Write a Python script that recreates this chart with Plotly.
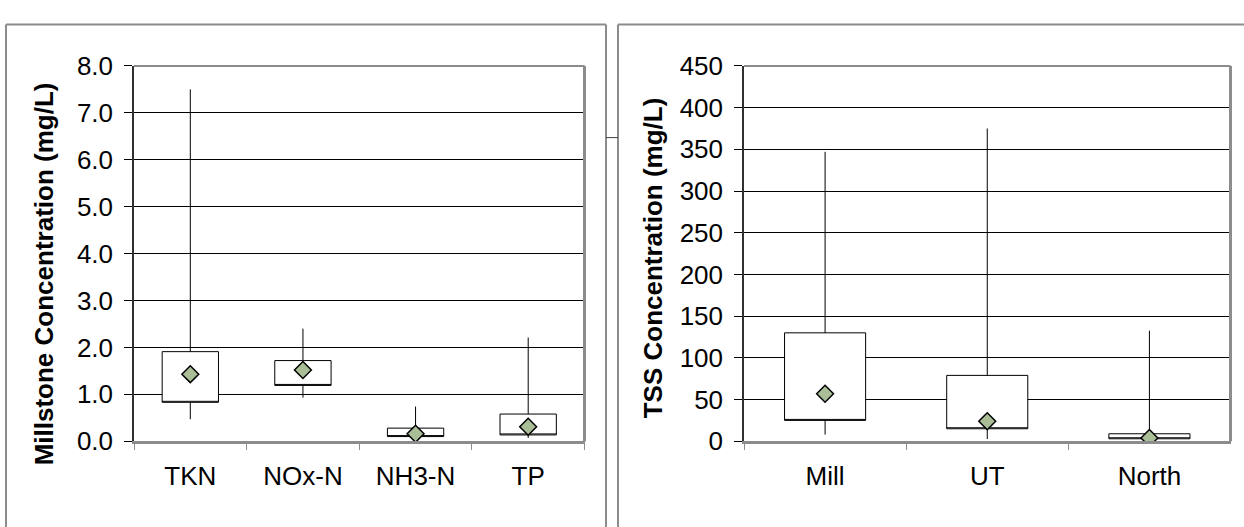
import plotly.graph_objects as go

W, H = 1244, 527

# ---- Left panel data (Millstone nutrients, mg/L)
nut_cats = ["TKN", "NOx-N", "NH3-N", "TP"]
nut_min = [0.47, 0.93, 0.02, 0.07]
nut_q1 = [0.83, 1.19, 0.10, 0.135]
nut_q3 = [1.91, 1.72, 0.28, 0.58]
nut_max = [7.50, 2.40, 0.74, 2.21]
nut_mean = [1.43, 1.52, 0.16, 0.31]
nut_ticks = [0, 1, 2, 3, 4, 5, 6, 7, 8]

# ---- Right panel data (TSS, mg/L)
tss_cats = ["Mill", "UT", "North"]
tss_min = [8, 2.7, 0.5]
tss_q1 = [25, 15, 3]
tss_q3 = [130, 79, 9]
tss_max = [347, 375, 132.5]
tss_mean = [57, 24, 4]
tss_ticks = [0, 50, 100, 150, 200, 250, 300, 350, 400, 450]

FONT = "Liberation Sans, Arial, sans-serif"
MEAN_FILL = "#a9bd97"

def px_x(p):
    return p / W

def px_y(p):
    return (H - p) / H

fig = go.Figure()

def add_panel(cats, lo, q1, q3, hi, mean, xa, ya):
    fig.add_trace(go.Box(
        x=cats, q1=q1, median=q1, q3=q3, lowerfence=lo, upperfence=hi,
        boxpoints=False, fillcolor="white", width=0.5, whiskerwidth=0,
        line=dict(color="black", width=1), xaxis=xa, yaxis=ya,
        showlegend=False, hoverinfo="skip"))
    fig.add_trace(go.Scatter(
        x=cats, y=mean, mode="markers", xaxis=xa, yaxis=ya, showlegend=False,
        marker=dict(symbol="diamond", size=13, color=MEAN_FILL,
                    line=dict(color="black", width=1.5))))

add_panel(nut_cats, nut_min, nut_q1, nut_q3, nut_max, nut_mean, "x", "y")
add_panel(tss_cats, tss_min, tss_q1, tss_q3, tss_max, tss_mean, "x2", "y2")

ydom = [px_y(452), px_y(54)]

def xaxis_cfg(dom, cats):
    return dict(domain=dom, type="category", categoryorder="array",
                categoryarray=cats, range=[-0.5, len(cats) - 0.5],
                showline=True, linecolor="#8c8c8c", linewidth=3,
                ticks="outside", tickson="boundaries", ticklen=6,
                tickcolor="#8c8c8c", tickwidth=1, showgrid=False,
                tickfont=dict(family=FONT, size=26, color="black"),
                ticklabelstandoff=10, fixedrange=True)

def yaxis_cfg(anchor, rng, ticks, fmt):
    return dict(domain=ydom, anchor=anchor, range=rng, tickvals=ticks,
                tickformat=fmt, showline=True, linecolor="#303030",
                linewidth=1.5, ticks="outside", ticklen=8, tickcolor="black",
                tickwidth=1, showgrid=True, gridcolor="black", gridwidth=1,
                zeroline=False,
                tickfont=dict(family=FONT, size=26, color="black"),
                ticklabelstandoff=6, fixedrange=True)

fig.update_layout(
    width=W, height=H, autosize=False,
    margin=dict(l=0, r=0, t=0, b=0),
    paper_bgcolor="white", plot_bgcolor="white",
    font=dict(family=FONT, color="black"),
    xaxis=xaxis_cfg([px_x(134), px_x(584.5)], nut_cats) | dict(anchor="y"),
    yaxis=yaxis_cfg("x", [0, 8], nut_ticks, ".1f"),
    xaxis2=xaxis_cfg([px_x(744), px_x(1230.5)], tss_cats) | dict(anchor="y2"),
    yaxis2=yaxis_cfg("x2", [0, 450], tss_ticks, "d"),
)

shapes = []
# plot-area top and right borders (gray)
for xr, yr in (("x domain", "y domain"), ("x2 domain", "y2 domain")):
    shapes.append(dict(type="line", xref=xr, yref=yr, x0=0, x1=1, y0=1, y1=1,
                       line=dict(color="#8c8c8c", width=2)))
    shapes.append(dict(type="line", xref=xr, yref=yr, x0=1, x1=1, y0=0, y1=1,
                       line=dict(color="#8c8c8c", width=3)))

frame = dict(color="#8c8c8c", width=2)
# left chart frame
shapes += [
    dict(type="line", xref="paper", yref="paper", x0=px_x(6), x1=px_x(6),
         y0=-0.1, y1=px_y(10), line=frame),
    dict(type="line", xref="paper", yref="paper", x0=px_x(6), x1=px_x(606),
         y0=px_y(10), y1=px_y(10), line=frame),
    dict(type="line", xref="paper", yref="paper", x0=px_x(606), x1=px_x(606),
         y0=-0.1, y1=px_y(10), line=frame),
]
# right chart frame
shapes += [
    dict(type="line", xref="paper", yref="paper", x0=px_x(618), x1=px_x(618),
         y0=-0.1, y1=px_y(10), line=frame),
    dict(type="line", xref="paper", yref="paper", x0=px_x(618), x1=1.05,
         y0=px_y(10), y1=px_y(10), line=frame),
    dict(type="line", xref="paper", yref="paper", x0=px_x(606), x1=px_x(618),
         y0=px_y(130), y1=px_y(130), line=dict(color="#404040", width=1)),
]
fig.update_layout(shapes=shapes)

fig.add_annotation(text="Millstone Concentration (mg/L)", textangle=-90,
                   xref="paper", yref="paper", x=px_x(44), y=px_y(275),
                   xanchor="center", yanchor="middle", showarrow=False,
                   font=dict(family=FONT, size=26, color="black", weight="bold"))
fig.add_annotation(text="TSS Concentration (mg/L)", textangle=-90,
                   xref="paper", yref="paper", x=px_x(653), y=px_y(258),
                   xanchor="center", yanchor="middle", showarrow=False,
                   font=dict(family=FONT, size=26, color="black", weight="bold"))

fig.write_html("out.html", config={"displayModeBar": False},
               post_script="document.body.style.margin='0';"
                           "document.body.style.overflow='hidden';")
